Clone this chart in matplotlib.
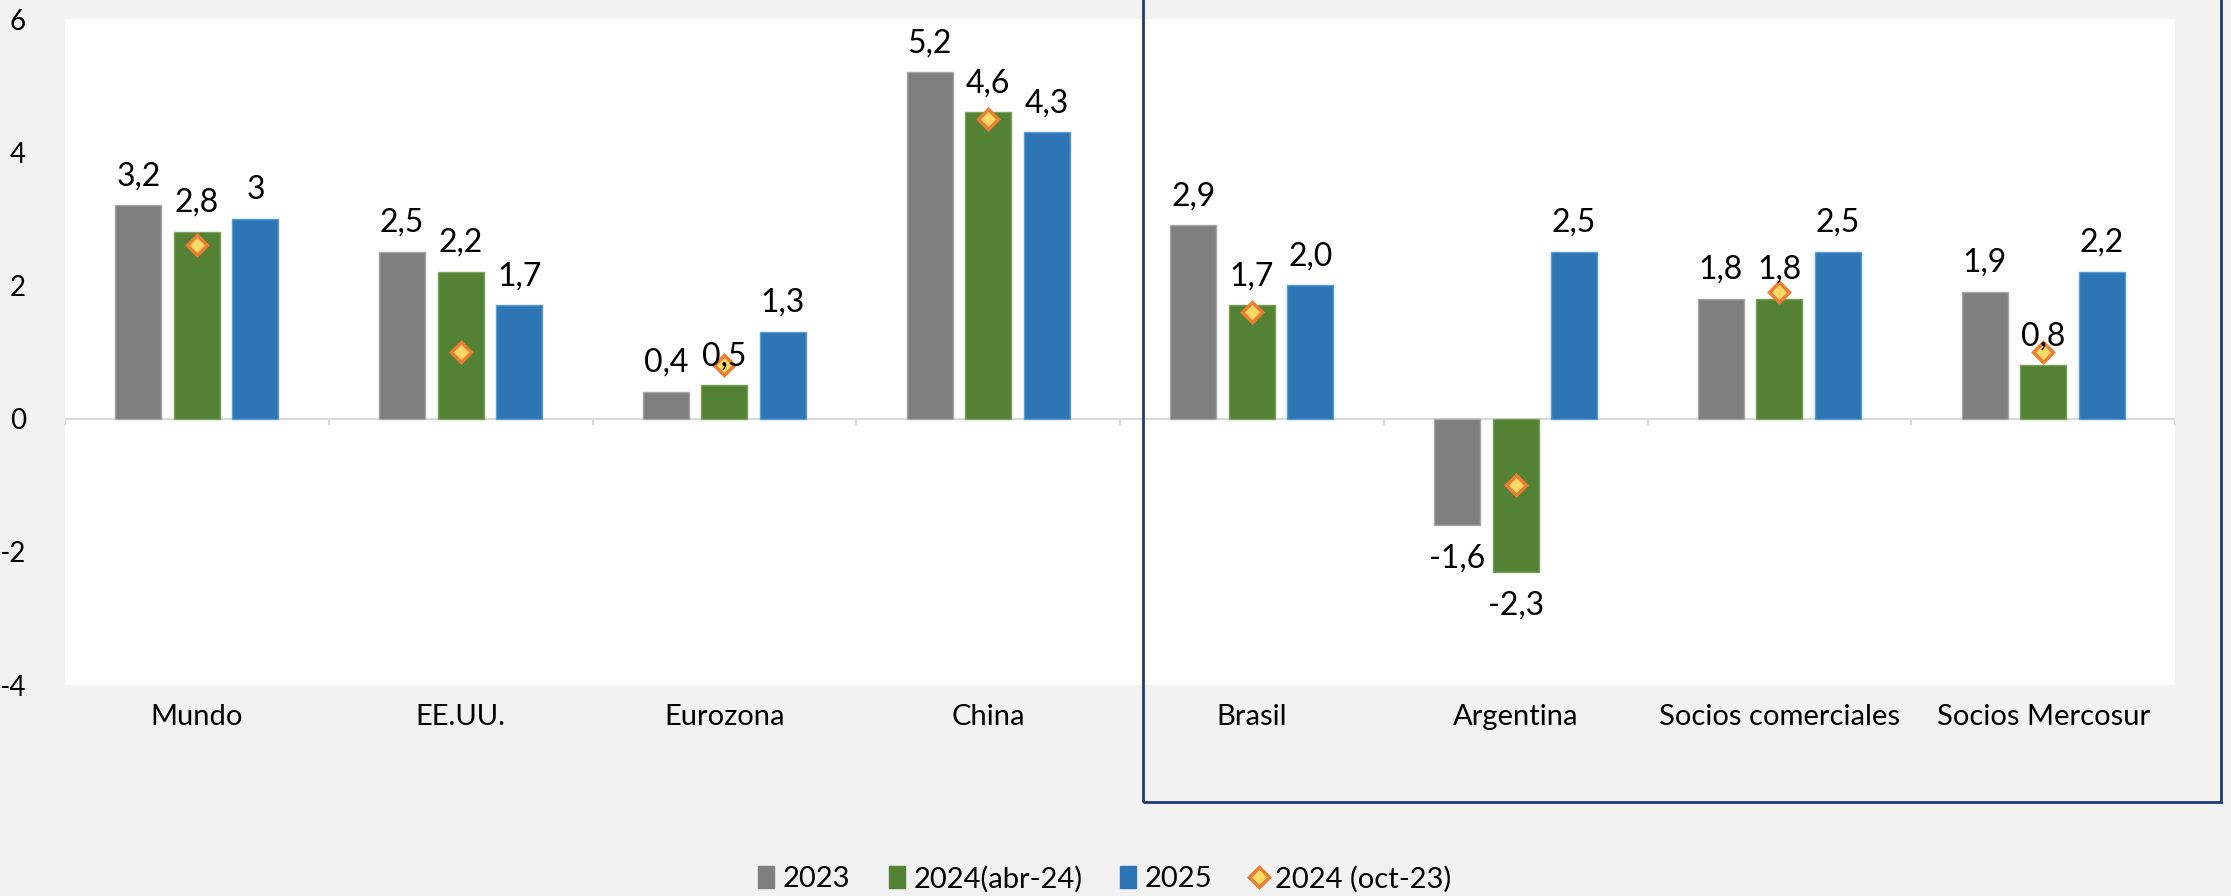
import matplotlib
matplotlib.use("Agg")
import matplotlib.pyplot as plt
from matplotlib.patches import Rectangle
from matplotlib.lines import Line2D
from matplotlib.patches import Patch
import numpy as np

plt.rcParams['font.family'] = ['Lato', 'DejaVu Sans']

categories = ["Mundo", "EE.UU.", "Eurozona", "China", "Brasil", "Argentina",
              "Socios comerciales", "Socios Mercosur"]
series_names = ["2023", "2024(abr-24)", "2025"]
v2023 = [3.2, 2.5, 0.4, 5.2, 2.9, -1.6, 1.8, 1.9]
v2024 = [2.8, 2.2, 0.5, 4.6, 1.7, -2.3, 1.8, 0.8]
v2025 = [3.0, 1.7, 1.3, 4.3, 2.0, 2.5, 2.5, 2.2]
v2024_oct = [2.6, 1.0, 0.8, 4.5, 1.6, -1.0, 1.9, 1.0]
lab2023 = ["3,2", "2,5", "0,4", "5,2", "2,9", "-1,6", "1,8", "1,9"]
lab2024 = ["2,8", "2,2", "0,5", "4,6", "1,7", "-2,3", "1,8", "0,8"]
lab2025 = ["3", "1,7", "1,3", "4,3", "2,0", "2,5", "2,5", "2,2"]
oct_name = "2024 (oct-23)"
yticks = [-4, -2, 0, 2, 4, 6]

colors = ["#7F7F7F", "#548235", "#2E75B6"]
edges = ["#A6A6A6", "#7AA05A", "#5B9BD5"]

W, H = 2231, 896
fig = plt.figure(figsize=(W / 100, H / 100), dpi=100, facecolor="#F2F2F2")
ax = fig.add_axes([65 / W, 1 - 685 / H, (2175 - 65) / W, (685 - 19) / H])
ax.set_facecolor("white")

x = np.arange(len(categories))
bw = 0.174
step = 0.222
for i, (vals, labs) in enumerate(zip([v2023, v2024, v2025], [lab2023, lab2024, lab2025])):
    xs = x + (i - 1) * step
    ax.bar(xs, vals, width=bw, color=colors[i], edgecolor=edges[i], linewidth=1,
           label=series_names[i], zorder=2)
    for xi, v, lab in zip(xs, vals, labs):
        off = 21 if v >= 0 else -24
        ax.annotate(lab, (xi, v), xytext=(0, off), textcoords="offset points",
                    ha="center", va="center", fontsize=23, color="black", zorder=4)

ax.plot(x, v2024_oct, linestyle="none", marker="D", markersize=10,
        markerfacecolor="#FFD966", markeredgecolor="#ED7D31", markeredgewidth=2.5,
        zorder=3, label=oct_name)

ax.set_xlim(-0.5, len(categories) - 0.5)
ax.set_ylim(yticks[0], yticks[-1])
ax.set_yticks(yticks)
ax.set_yticklabels([str(t) for t in yticks], fontsize=20)
ax.tick_params(axis="y", length=0, pad=28)
ax.axhline(0, color="#D9D9D9", linewidth=1.5, zorder=1)
ax.vlines(np.arange(len(categories) + 1) - 0.5, -0.09, 0, color="#D9D9D9",
          linewidth=1.5, zorder=1)
ax.set_xticks(x)
ax.set_xticklabels(categories, fontsize=21)
ax.tick_params(axis="x", length=0, pad=14)
for s in ax.spines.values():
    s.set_visible(False)

# Blue box around regional group
rect = Rectangle((1143 / W, 1 - 802 / H), (2221 - 1143) / W, 802 / H + 0.05,
                 transform=fig.transFigure, fill=False, edgecolor="#1F3A78",
                 linewidth=2, clip_on=False, zorder=5)
fig.patches.append(rect)

handles = [Patch(facecolor=colors[0], edgecolor=colors[0]),
           Patch(facecolor=colors[1], edgecolor=colors[1]),
           Patch(facecolor=colors[2], edgecolor=colors[2]),
           Line2D([], [], linestyle="none", marker="D", markersize=10,
                  markerfacecolor="#FFD966", markeredgecolor="#ED7D31",
                  markeredgewidth=2.5)]
fig.legend(handles, series_names + [oct_name], loc="center",
           bbox_to_anchor=(1105 / W, 1 - 879 / H), ncol=4, frameon=False,
           fontsize=21, handlelength=0.55, handleheight=0.8, handletextpad=0.3,
           columnspacing=1.3)

fig.savefig("out.png", dpi=100, facecolor=fig.get_facecolor())
